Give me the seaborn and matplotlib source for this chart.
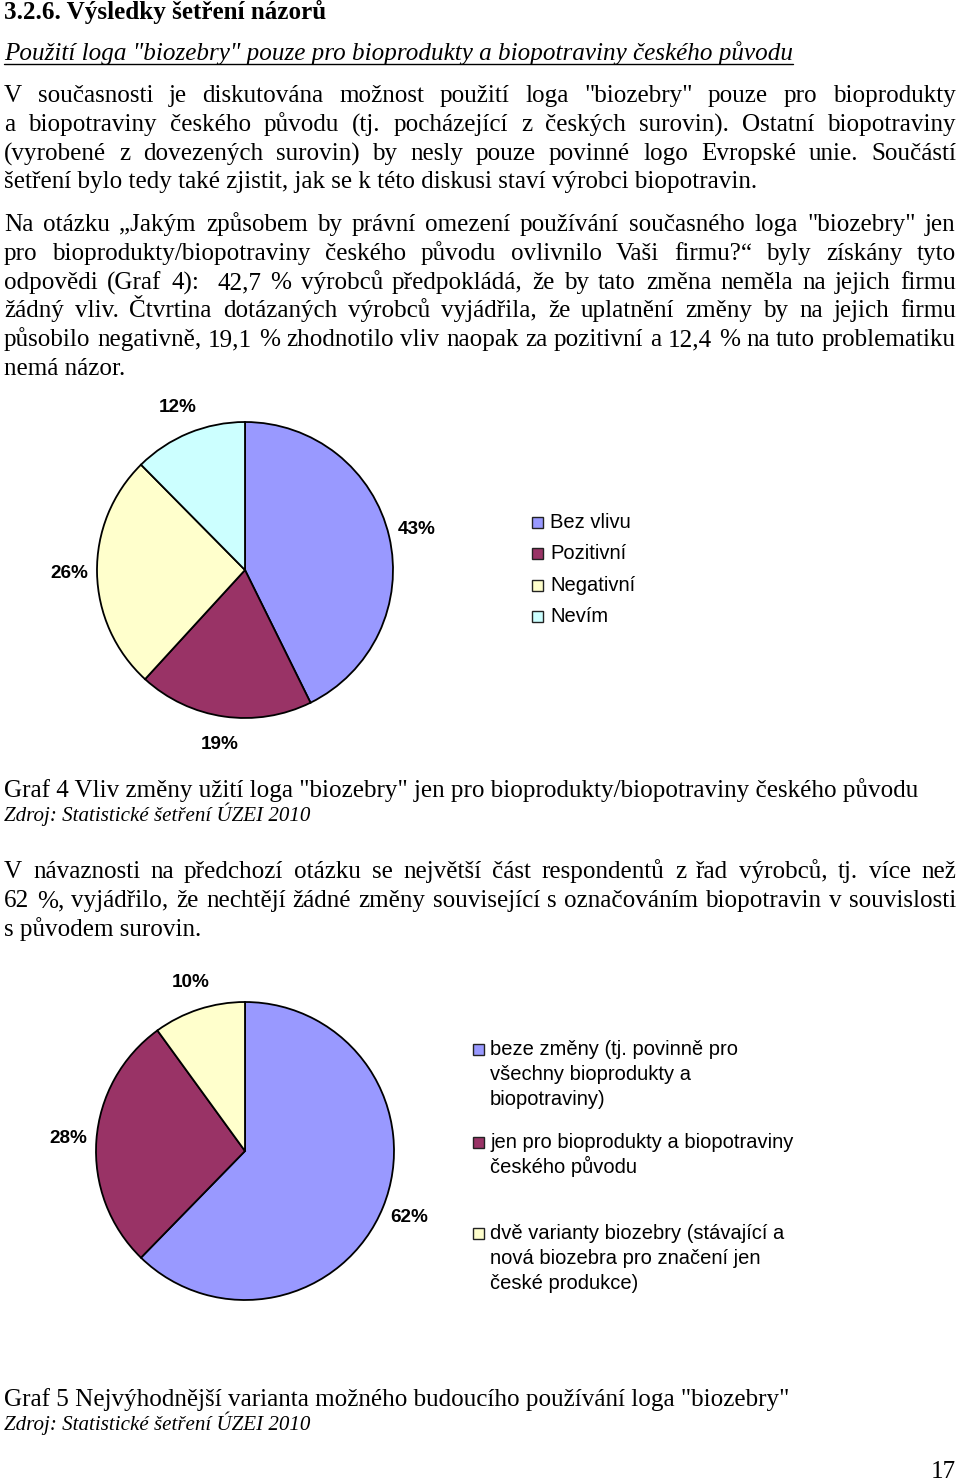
import math
import matplotlib
matplotlib.use("Agg")
import matplotlib.pyplot as plt
import seaborn as sns
from matplotlib.patches import Rectangle

# ---------------- data ----------------
graf4_categories = ["Bez vlivu", "Pozitivní", "Negativní", "Nevím"]
graf4_values = [42.7, 19.1, 25.8, 12.4]

graf5_categories = [
    ["beze změny (tj. povinně pro", "všechny bioprodukty a", "biopotraviny)"],
    ["jen pro bioprodukty a biopotraviny", "českého původu"],
    ["dvě varianty biozebry (stávající a", "nová biozebra pro značení jen", "české produkce)"],
]
graf5_values = [62.3, 27.7, 10.0]

pie_colors = ["#9999FF", "#993366", "#FFFFCC", "#CCFFFF"]

heading = "3.2.6. Výsledky šetření názorů"
subtitle = 'Použití loga "biozebry" pouze pro bioprodukty a biopotraviny českého původu'
para1 = [
    'V současnosti je diskutována možnost použití loga "biozebry" pouze pro bioprodukty',
    "a biopotraviny českého původu (tj. pocházející z českých surovin). Ostatní biopotraviny",
    "(vyrobené z dovezených surovin) by nesly pouze povinné logo Evropské unie. Součástí",
    "šetření bylo tedy také zjistit, jak se k této diskusi staví výrobci biopotravin.",
]
para2 = [
    'Na otázku „Jakým způsobem by právní omezení používání současného loga "biozebry" jen',
    "pro bioprodukty/biopotraviny českého původu ovlivnilo Vaši firmu?“ byly získány tyto",
    "odpovědi (Graf 4):  42,7 % výrobců předpokládá, že by tato změna neměla na jejich firmu",
    "žádný vliv. Čtvrtina dotázaných výrobců vyjádřila, že uplatnění změny by na jejich firmu",
    "působilo negativně, 19,1 % zhodnotilo vliv naopak za pozitivní a 12,4 % na tuto problematiku",
    "nemá názor.",
]
caption4 = 'Graf 4 Vliv změny užití loga "biozebry" jen pro bioprodukty/biopotraviny českého původu'
source = "Zdroj: Statistické šetření ÚZEI 2010"
para3 = [
    "V návaznosti na předchozí otázku se největší část respondentů z řad výrobců, tj. více než",
    "62 %, vyjádřilo, že nechtějí žádné změny související s označováním biopotravin v souvislosti",
    "s původem surovin.",
]
caption5 = 'Graf 5 Nejvýhodnější varianta možného budoucího používání loga "biozebry"'
page_number = "17"

# ---------------- setup ----------------
sns.set_theme(style="white")
plt.rcParams["font.family"] = ["Liberation Serif", "DejaVu Serif"]
SANS = ["Liberation Sans", "DejaVu Sans"]

W, H = 960, 1484
fig = plt.figure(figsize=(W / 100, H / 100), dpi=100)
fig.patch.set_facecolor("white")
page = fig.add_axes([0, 0, 1, 1])
page.set_xlim(0, W)
page.set_ylim(H, 0)
page.axis("off")

fig.canvas.draw()
renderer = fig.canvas.get_renderer()


def text_metrics(s, **kw):
    t = page.text(0, 0, s, **kw)
    w = t.get_window_extent(renderer).width
    _, _, d = renderer.get_text_width_height_descent(s, t.get_fontproperties(), ismath=False)
    t.remove()
    return w, d


def text_width(s, **kw):
    return text_metrics(s, **kw)[0]


def fit_size(s, target, **kw):
    return 10 * target / text_width(s, fontsize=10, **kw)


X0, X1 = 4, 956
body_size = fit_size(para1[3], 756)
BODY = dict(fontsize=body_size, color="black")


def put_word(x, y, s, **kw):
    # keep every word on the same pixel baseline (compensate glyph-descent rounding)
    _, d = text_metrics(s, **kw)
    page.text(round(x), y + (math.ceil(d - 1e-6) - d), s, va="baseline", ha="left", **kw)


def put_line(y, s, justify=True, x0=X0, x1=X1, **kw):
    y = round(y)
    if not justify:
        page.text(x0, y, s, va="baseline", ha="left", **kw)
        return
    words = s.split(" ")
    widths = [text_width(w, **kw) if w else 0 for w in words]
    gap = (x1 - x0 - sum(widths)) / (len(words) - 1)
    x = x0
    for w, wd in zip(words, widths):
        if w:
            put_word(x, y, w, **kw)
        x += wd + gap


def put_paragraph(y0, lines, step=28.8):
    for i, line in enumerate(lines):
        put_line(y0 + i * step, line, justify=(i < len(lines) - 1), **BODY)


# heading and subtitle
page.text(X0, 19, heading, va="baseline", ha="left", fontweight="bold",
          fontsize=fit_size(heading, 323, fontweight="bold"), color="black")
sub_kw = dict(fontstyle="italic", fontsize=fit_size(subtitle, 792, fontstyle="italic"), color="black")
page.text(X0, 60, subtitle, va="baseline", ha="left", **sub_kw)
sub_w = text_width(subtitle, **sub_kw)
page.plot([X0, X0 + sub_w], [64, 64], color="black", lw=1.0)

put_paragraph(102, para1)
put_paragraph(231, para2)

cap_kw4 = dict(fontsize=fit_size(caption4, 916), color="black")
page.text(X0, 797, caption4, va="baseline", ha="left", **cap_kw4)
src_kw = dict(fontstyle="italic", fontsize=fit_size(source, 306, fontstyle="italic"), color="black")
page.text(X0, 821, source, va="baseline", ha="left", **src_kw)

put_paragraph(878, para3)

page.text(X0, 1406, caption5, va="baseline", ha="left", **cap_kw4)
page.text(X0, 1430, source, va="baseline", ha="left", **src_kw)
page.text(956, 1478, page_number, va="baseline", ha="right", **BODY)

# ---------------- pies ----------------
label_size = fit_size("43%", 38, fontweight="bold", family=SANS)
legend_size = fit_size(graf5_categories[1][0], 303, family=SANS)
LIM = 1.35


def draw_pie(cx, cy, r, values, colors):
    size = 2 * r * LIM
    ax = fig.add_axes([(cx - size / 2) / W, (H - cy - size / 2) / H, size / W, size / H])
    labels = [f"{v:.0f}%" for v in values]
    wedges, texts = ax.pie(
        values, colors=colors, startangle=90, counterclock=False,
        labels=labels, labeldistance=1.19,
        wedgeprops=dict(edgecolor="black", linewidth=1.3),
        textprops=dict(fontsize=label_size, fontweight="bold", family=SANS, color="black"),
    )
    for t in texts:
        t.set_ha("center")
        t.set_va("center")
    ax.set_xlim(-LIM, LIM)
    ax.set_ylim(-LIM, LIM)
    ax.set_aspect("equal")
    ax.axis("off")
    return wedges


w4 = draw_pie(245, 570, 148, graf4_values, pie_colors[:4])
w5 = draw_pie(245, 1151, 149, graf5_values, pie_colors[:3])


def legend_entry(x_sq, x_txt, baseline, lines, color, step=25):
    baseline = round(baseline)
    page.add_patch(Rectangle((x_sq, baseline - 11), 10.5, 10.5, facecolor=color,
                             edgecolor="#222222", lw=1.0))
    for i, ln in enumerate(lines):
        page.text(x_txt, baseline + i * step, ln, va="baseline", ha="left",
                  fontsize=legend_size, family=SANS, color="black")


for i, (name, wd) in enumerate(zip(graf4_categories, w4)):
    legend_entry(532, 550, 528 + i * 31.3, [name], wd.get_facecolor())

for base, lines, wd in zip([1055, 1148, 1239], graf5_categories, w5):
    legend_entry(473, 490, base, lines, wd.get_facecolor())

fig.savefig("out.png", dpi=100, facecolor="white")
